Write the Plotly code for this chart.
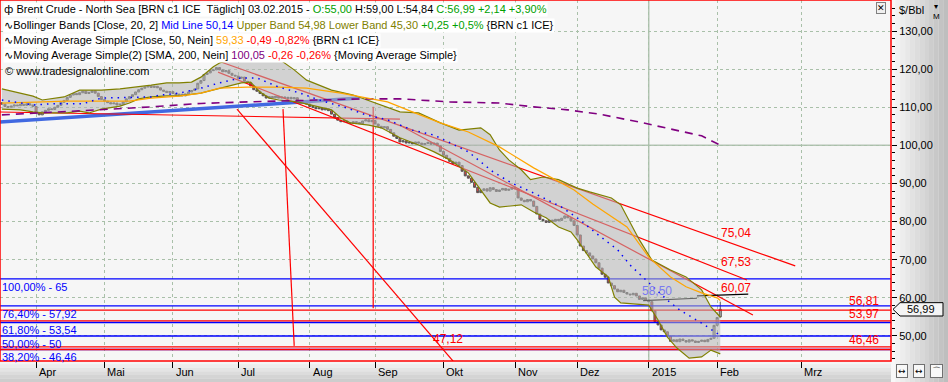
import numpy as np
import pandas as pd
import plotly.graph_objects as go

# ---------------- data ----------------
start_date = "2014-03-17"
closes = [
    110.8, 110.2, 110.0, 110.3, 110.6, 110.4, 110.8, 110.5, 110.9, 110.6, 110.2,
    108.5, 108.0, 108.8, 109.2, 109.6, 109.4, 110.0, 110.5, 111.3, 111.8,
    112.6, 113.2, 113.6, 113.3, 113.8, 114.2, 113.6, 113.9, 114.3, 113.7,
    112.8, 112.0, 111.6, 111.2, 110.9, 111.1, 110.6, 110.8, 111.4, 112.2,
    112.8, 113.3, 114.0, 114.6, 115.0, 115.3, 115.6, 115.2, 115.5, 115.1,
    114.5, 114.2, 113.9, 114.1, 113.6, 113.2, 113.4, 113.0, 113.5, 114.0,
    114.4, 114.8, 116.3, 117.0, 118.6, 119.0, 119.6, 119.8, 120.4, 119.8,
    119.3, 119.6, 118.9, 118.4, 118.2, 117.6, 117.9, 116.8, 116.4, 115.6,
    114.6, 114.2, 113.6, 113.0, 112.4, 112.8, 112.5, 112.9, 112.4, 112.7,
    112.3, 112.6, 112.2, 112.5, 111.8, 111.5, 111.7, 110.8, 110.2, 110.0,
    109.6, 109.8, 109.3, 109.6, 109.1, 108.2, 107.3, 106.6, 106.2, 106.4,
    106.0, 105.8, 106.2, 106.0, 105.7, 106.4, 106.7, 106.2, 106.5, 105.6,
    105.0, 104.6, 104.9, 104.2, 103.3, 102.4, 101.8, 100.9, 101.2, 100.6,
    100.8, 100.4, 100.9, 100.6, 100.2, 100.5, 100.8, 100.3, 100.6, 99.9,
    98.4, 97.4, 96.6, 95.8, 95.2, 95.6, 94.7, 93.2, 92.0, 91.4,
    90.3, 89.0, 87.6, 88.2, 88.6, 88.0, 88.9, 88.4, 87.9, 88.3,
    88.7, 88.2, 88.5, 89.0, 88.6, 86.2, 85.6, 85.2, 85.8, 85.4,
    84.0, 82.0, 80.6, 80.2, 79.8, 80.4, 80.1, 80.6, 80.3, 80.9,
    81.5, 81.0, 80.2, 79.0, 76.5, 73.6, 72.4, 71.8, 71.0, 70.2,
    69.2, 67.8, 66.2, 65.4, 63.9, 63.2, 62.3, 61.6, 62.0, 61.4,
    61.0, 60.8, 61.2, 60.5, 59.6, 60.0, 59.4, 59.0, 56.6, 53.8,
    52.9, 51.6, 51.1, 50.0, 48.6, 49.0, 48.5, 49.2, 48.8, 48.4,
    49.0, 48.7, 48.3, 48.6, 48.9, 48.5, 49.1, 49.4, 52.8, 54.85,
    56.99,
]
first_open = 111.2
last_open, last_high, last_low = 55.00, 59.00, 54.84

# trading-day number (0 = 1 Apr 2014) of points
upper_day = [-11, -5, -1, 2, 9, 14, 21, 27, 33, 37, 42, 46, 50, 53, 57, 59, 64, 71, 78, 83, 87, 95,
             102, 108, 117, 123, 130, 136, 143, 146, 149, 152, 156, 159, 163, 168, 174, 178, 185,
             188, 191, 194, 198, 204, 209, 214, 217, 219, 220]
upper_val = [114.8, 113.7, 112.9, 111.9, 112.7, 114.5, 114.5, 114.8, 115.3, 115.8, 116.4, 116.4,
             116.6, 117.9, 120.6, 121.6, 122.7, 123.2, 122.7, 119.8, 117.1, 114.5, 113.2, 111.4,
             108.8, 108.5, 105.9, 104.0, 104.6, 102.8, 98.8, 96.2, 93.6, 91.0, 91.7, 91.0, 88.8,
             87.8, 86.2, 84.4, 79.9, 75.2, 69.9, 67.3, 65.5, 62.1, 57.6, 55.8, 54.98]
lower_day = [-11, -5, -1, 2, 10, 14, 17, 21, 27, 30, 33, 37, 42, 46, 53, 59, 66, 69, 72, 75, 78, 84,
             88, 95, 98, 101, 107, 111, 117, 123, 128, 133, 139, 143, 146, 149, 156, 160, 164, 168,
             172, 174, 177, 180, 184, 186, 188, 197, 200, 203, 206, 210, 214, 217, 220]
lower_val = [109.5, 109.3, 108.8, 108.5, 108.5, 109.0, 108.5, 109.5, 110.3, 111.1, 112.2, 112.7,
             113.0, 113.0, 113.7, 115.0, 116.4, 116.6, 114.0, 112.4, 111.9, 111.4, 110.6, 109.3,
             107.2, 105.9, 105.3, 104.6, 102.0, 100.1, 98.3, 96.2, 92.8, 88.3, 84.9, 83.8, 84.4,
             82.5, 81.0, 78.6, 77.3, 75.2, 71.8, 68.1, 65.5, 60.2, 58.7, 58.1, 54.2, 49.7, 46.9,
             44.2, 44.5, 46.3, 45.30]
mid_day = [-11, -1, 5, 15, 21, 31, 37, 40, 46, 53, 59, 66, 71, 78, 85, 91, 100, 106, 113, 121, 128,
           139, 147, 153, 160, 169, 175, 180, 187, 191, 196, 203, 207, 214, 220]
mid_val = [111.9, 110.6, 110.9, 110.9, 112.4, 112.7, 112.7, 113.2, 113.7, 115.0, 116.4, 117.7,
           117.7, 115.3, 113.7, 111.9, 109.8, 108.0, 106.7, 104.0, 102.7, 98.3, 93.0, 90.1, 87.5,
           83.8, 80.4, 77.0, 72.6, 68.6, 64.7, 59.4, 56.8, 53.4, 50.14]
sma50_day = [-11, 10, 30, 37, 46, 53, 59, 68, 78, 87, 98, 106, 113, 121, 130, 139, 149, 160, 166,
             173, 179, 185, 190, 197, 204, 209, 214, 219, 220]
sma50_val = [111.1, 111.6, 111.6, 112.4, 112.9, 113.7, 115.0, 115.3, 115.3, 115.0, 113.7, 112.4,
             111.4, 108.8, 105.9, 103.5, 99.6, 94.1, 91.4, 88.3, 84.6, 81.2, 78.6, 70.7, 65.5,
             62.9, 61.3, 60.0, 59.33]
sma200_day = [-11, 1, 11, 24, 37, 46, 53, 68, 89, 105, 117, 133, 149, 160, 171, 181, 194, 207, 214, 220]
sma200_val = [108.0, 108.5, 108.8, 109.5, 110.1, 110.6, 111.0, 111.4, 111.9, 112.2, 112.2, 111.4,
              111.1, 110.1, 109.3, 108.2, 106.1, 103.8, 102.5, 100.05]

# hand-drawn trend lines: (day0, day1, value0, value1)
blue_trend = (-11.6, 104, 106.1, 112.4)
red_lines = [
    (-11.6, 117.0, 108.75, 106.9),
    (79.4, 83.0, 109.5, 47.4),
    (64.6, 134.1, 109.5, 43.4),
    (108.4, 108.4, 110.1, 57.3),
    (57.6, 244.1, 122.4, 68.4),
    (58.5, 228.6, 119.2, 64.7),
    (117.0, 230.5, 105.3, 55.5),
]
black_lines = [(195.2, 212.5, 59.3, 59.9), (212.5, 229.0, 60.5, 61.0)]
fib_blue = [65.0, 57.92, 53.54, 50.0, 46.46]
fib_blue_labels = ["100,00% - 65", "76,40% - 57,92", "61,80% - 53,54", "50,00% - 50", "38,20% - 46,46"]
red_levels = [56.81, 53.97, 47.12, 46.46]
month_labels = ["Apr", "Mai", "Jun", "Jul", "Aug", "Sep", "Okt", "Nov", "Dez", "2015", "Feb", "Mrz"]

# ---------------- derived ----------------
n = len(closes)
dates = pd.bdate_range(start_date, periods=n)
apr_pos = dates.get_loc(pd.Timestamp("2014-04-01"))
xs = np.arange(n) - apr_pos
opens = [first_open] + closes[:-1]
opens[-1] = last_open
highs = [max(o, c) for o, c in zip(opens, closes)]
lows = [min(o, c) for o, c in zip(opens, closes)]
highs[-1], lows[-1] = last_high, last_low

month_pos = [int(xs[i]) for i in range(1, n) if dates[i].month != dates[i - 1].month]
month_pos.append(int(xs[-1] + (pd.Timestamp("2015-03-01") - dates[-1]).days))

XR = [-11.6, 274.9]
YR = [43.44, 138.13]
FONT = "Liberation Sans"
W, H = 948, 382
PW, PH = 891, 361

fig = go.Figure()


def seg(x0, x1, y0, y1, color, width, dash=None):
    fig.add_trace(go.Scatter(x=[x0, x1], y=[y0, y1], mode="lines",
                             line=dict(color=color, width=width, dash=dash),
                             hoverinfo="skip", showlegend=False))


# drawings under the band
for v in fib_blue:
    seg(XR[0], XR[1], v, v, "#0000ff", 1.3)
for v in red_levels:
    seg(XR[0], XR[1], v, v, "#ff0000", 1.3)
seg(*blue_trend, "#4169e1", 3.5)
for l in red_lines:
    seg(*l, "#ff0000", 1.2)
for l in black_lines:
    seg(*l, "#000000", 1.2)

# Bollinger band fill
fig.add_trace(go.Scatter(x=upper_day + lower_day[::-1], y=upper_val + lower_val[::-1],
                         fill="toself", fillcolor="rgba(180,180,180,0.55)", mode="lines",
                         line=dict(width=0), hoverinfo="skip", showlegend=False))
fig.add_trace(go.Scatter(x=upper_day, y=upper_val, mode="lines", line=dict(color="#808000", width=1.2),
                         hoverinfo="skip", showlegend=False))
fig.add_trace(go.Scatter(x=lower_day, y=lower_val, mode="lines", line=dict(color="#808000", width=1.2),
                         hoverinfo="skip", showlegend=False))
fig.add_trace(go.Scatter(x=sma200_day, y=sma200_val, mode="lines",
                         line=dict(color="#800080", width=1.6, dash="8px,6px"),
                         hoverinfo="skip", showlegend=False))
fig.add_trace(go.Scatter(x=sma50_day, y=sma50_val, mode="lines", line=dict(color="#ffa500", width=1.2),
                         hoverinfo="skip", showlegend=False))
fig.add_trace(go.Scatter(x=mid_day, y=mid_val, mode="lines",
                         line=dict(color="#0000ff", width=1.5, dash="1.5px,5px"),
                         hoverinfo="skip", showlegend=False))

fig.add_trace(go.Candlestick(
    x=xs, open=opens, high=highs, low=lows, close=closes,
    increasing=dict(line=dict(color="#555555", width=1), fillcolor="#b0b0b0"),
    decreasing=dict(line=dict(color="#555555", width=1), fillcolor="#e8413c"),
    whiskerwidth=0, showlegend=False, hoverinfo="skip"))

shapes = []
# axis area gradients
steps = 12
for i in range(steps):
    c = int(248 - (248 - 190) * i / (steps - 1))
    shapes.append(dict(type="rect", xref="paper", yref="paper",
                       x0=1 + (W - PW) / PW * i / steps, x1=1 + (W - PW) / PW * (i + 1) / steps,
                       y0=-(H - PH) / PH, y1=1, fillcolor=f"rgb({c},{c},{c})", line=dict(width=0),
                       layer="below"))
for i in range(6):
    c = int(244 - (244 - 205) * i / 5)
    shapes.append(dict(type="rect", xref="paper", yref="paper", x0=0, x1=1,
                       y0=-(H - PH) / PH * (i + 1) / 6, y1=-(H - PH) / PH * i / 6,
                       fillcolor=f"rgb({c},{c},{c})", line=dict(width=0), layer="below"))
# solid 100 line and year line
shapes.append(dict(type="line", xref="paper", yref="y", x0=0, x1=1, y0=100, y1=100,
                   line=dict(color="#b3c4b3", width=1.5), layer="below"))
shapes.append(dict(type="line", xref="x", yref="paper", x0=month_pos[9], x1=month_pos[9], y0=0, y1=1,
                   line=dict(color="#b3c4b3", width=1.5), layer="below"))
# red frame
shapes.append(dict(type="rect", xref="paper", yref="paper", x0=0, x1=1, y0=0, y1=1,
                   line=dict(color="#ff0000", width=1.5), layer="above"))
# price marker
px = 1 / PW
shapes.append(dict(type="path", xref="paper", yref="y",
                   path=f"M {1 + 2 * px},{closes[-1]} L {1 + 9 * px},{closes[-1] + 1.75} "
                        f"L {1 + 52 * px},{closes[-1] + 1.75} L {1 + 52 * px},{closes[-1] - 1.75} "
                        f"L {1 + 9 * px},{closes[-1] - 1.75} Z",
                   fillcolor="#f4f4f4", line=dict(color="#000000", width=1), layer="above"))

ann = []


def ypap(ypix):
    return 1 - ypix / PH


legend_lines = [
    "<span style='font-family:DejaVu Sans'>ф</span> Brent Crude - North Sea [BRN c1 ICE  Täglich] 03.02.2015 - "
    "<span style='color:#00a000'>O:55,00</span> H:59,00 L:54,84 <span style='color:#00a000'>C:56,99 +2,14 +3,90%</span>",
    "<span style='font-family:DejaVu Sans'>∿</span>Bollinger Bands [Close, 20, 2] <span style='color:#0000ff'>Mid Line 50,14</span> "
    "<span style='color:#808000'>Upper Band 54,98 Lower Band 45,30</span> <span style='color:#00a000'>+0,25 +0,5%</span> {BRN c1 ICE}",
    "<span style='font-family:DejaVu Sans'>∿</span>Moving Average Simple [Close, 50, Nein] <span style='color:#ffa500'>59,33</span> "
    "<span style='color:#ff0000'>-0,49 -0,82%</span> {BRN c1 ICE}",
    "<span style='font-family:DejaVu Sans'>∿</span>Moving Average Simple(2) [SMA, 200, Nein] <span style='color:#800080'>100,05</span> "
    "<span style='color:#ff0000'>-0,26 -0,26%</span> {Moving Average Simple}",
]
for k, t in enumerate(legend_lines):
    ann.append(dict(text=t, xref="paper", yref="paper", x=3 / PW, y=ypap(10 + 15.2 * k), xanchor="left",
                    yanchor="middle", showarrow=False, bgcolor="#ffffff", borderpad=0,
                    font=dict(family=FONT, size=11, color="#000000")))
ann.append(dict(text="© www.tradesignalonline.com", xref="paper", yref="paper", x=3 / PW, y=ypap(71),
                xanchor="left", yanchor="middle", showarrow=False,
                font=dict(family=FONT, size=11, color="#000000")))

for v, t in zip(fib_blue, fib_blue_labels):
    ann.append(dict(text=t, x=XR[0], y=v, xref="x", yref="y", xanchor="left", yanchor="top",
                    xshift=1, yshift=-1, showarrow=False, borderpad=0,
                    font=dict(family=FONT, size=11, color="#0000ff")))
for v, t, ys in [(56.81, "56,81", 1), (53.97, "53,97", -1), (46.46, "46,46", 1)]:
    ann.append(dict(text=t, x=271.5, y=v, xref="x", yref="y", xanchor="right", yanchor="bottom",
                    yshift=ys, showarrow=False, borderpad=0,
                    font=dict(family=FONT, size=12, color="#ff0000")))
for t, xv, yv, col in [("47,12", 127.3, 47.12, "#ff0000"), ("75,04", 219.9, 74.8, "#ff0000"),
                       ("67,53", 219.9, 67.4, "#ff0000"), ("60,07", 219.9, 60.4, "#ff0000"),
                       ("58,50", 194.5, 59.6, "#7a7af0")]:
    ann.append(dict(text=t, x=xv, y=yv, xref="x", yref="y", xanchor="left", yanchor="bottom",
                    showarrow=False, borderpad=0, font=dict(family=FONT, size=12, color=col)))

for p, t in zip(month_pos, month_labels):
    ann.append(dict(text=t, x=p, y=ypap(372), xref="x", yref="paper", xanchor="left", yanchor="middle",
                    xshift=1, showarrow=False, font=dict(family=FONT, size=11, color="#000000")))

ann.append(dict(text="56,99", xref="paper", yref="y", x=(PW + 30) / PW, y=closes[-1], xanchor="center",
                yanchor="middle", showarrow=False, font=dict(family=FONT, size=11, color="#000000")))
ann.append(dict(text="$/Bbl", xref="paper", yref="paper", x=(PW + 6) / PW, y=ypap(10), xanchor="left",
                yanchor="middle", showarrow=False, font=dict(family=FONT, size=11, color="#000000")))
ann.append(dict(text="▾<br>M", xref="paper", yref="paper", x=(PW + 45) / PW, y=ypap(11), xanchor="center",
                yanchor="middle", showarrow=False, font=dict(family=FONT, size=8, color="#000000")))
ann.append(dict(text="✕", xref="paper", yref="paper", x=(PW - 10) / PW, y=ypap(8), xanchor="center",
                yanchor="middle", showarrow=False, bgcolor="#f0f0f0", bordercolor="#808080", borderwidth=1,
                borderpad=0, font=dict(family="DejaVu Sans", size=9, color="#000000")))
for k, t in enumerate(["↔", "↔", "⌒"]):
    ann.append(dict(text=t, xref="paper", yref="paper", x=(PW + 11 + 17 * k) / PW, y=ypap(371),
                    xanchor="center", yanchor="middle", showarrow=False, bgcolor="#f8f8f8",
                    bordercolor="#707070", borderwidth=1, borderpad=1,
                    font=dict(family="DejaVu Sans", size=9, color="#000000")))

fig.update_layout(
    width=W, height=H, margin=dict(l=0, r=W - PW, t=0, b=H - PH),
    paper_bgcolor="#ececec", plot_bgcolor="#f6f6f6", separators=",.", boxgap=0.08,
    showlegend=False, shapes=shapes, annotations=ann,
    xaxis=dict(range=XR, tickvals=month_pos, showticklabels=False, ticks="outside", ticklen=6,
               tickcolor="#000000", showgrid=True, gridcolor="#a9c0a9", griddash="dot", gridwidth=1,
               zeroline=False, showline=False, rangeslider=dict(visible=False), fixedrange=True),
    yaxis=dict(range=YR, side="right", tickvals=[50, 60, 70, 80, 90, 100, 110, 120, 130], tickformat=".2f",
               ticks="outside", ticklen=5, tickcolor="#000000", showgrid=True, gridcolor="#a9c0a9",
               griddash="dot", gridwidth=1, zeroline=False, showline=False,
               minor=dict(tickvals=list(range(44, 138, 2)), ticks="outside", ticklen=3, tickcolor="#000000",
                          showgrid=False),
               tickfont=dict(family=FONT, size=11, color="#000000"), fixedrange=True),
)

fig.write_html("out.html", config={"displayModeBar": False},
               post_script="document.body.style.margin='0px';document.body.style.overflow='hidden';")
